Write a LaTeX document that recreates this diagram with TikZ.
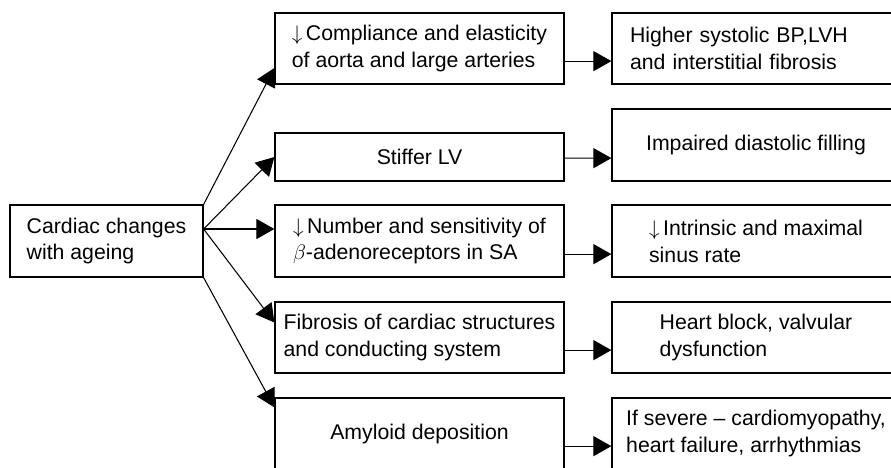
\documentclass[tikz,border=0pt]{standalone}
\usepackage{fontspec}
\setmainfont{Liberation Sans}
\usepackage{amsmath}
\usepackage{tikz}
\usetikzlibrary{arrows.meta}
\tikzset{>={Triangle[length=3.6mm, width=4mm]}}
\tikzstyle{box} = [rectangle, draw=black, line width=0.7pt, inner sep=0pt, align=left, font=\fontsize{12.1}{15.3}\selectfont]
\tikzstyle{mid} = [box, minimum width=5.78cm, minimum height=1.42cm]
\tikzstyle{res} = [box, minimum width=5.76cm, minimum height=1.42cm]
\tikzstyle{link} = [->, line width=0.6pt]

\begin{document}
\begin{tikzpicture}
\useasboundingbox (0, 0) rectangle (17.82, -9.34);
\clip (0, 0) rectangle (17.82, -9.34);
% causes
\node [box, minimum width=3.86cm, minimum height=1.44cm] (age) at (2.13, -4.82) {Cardiac changes\\with ageing};
\node [mid] (comp) at (8.39, -0.97) {$\downarrow$\,Compliance and elasticity\\of aorta and large arteries};
\node [mid, minimum height=0.96cm] (lv) at (8.39, -3.14) {Stiffer LV};
\node [mid, minimum height=1.44cm] (beta) at (8.39, -4.82) {$\downarrow$\,Number and sensitivity of\\$\beta$-adenoreceptors in SA};
\node [mid] (fib) at (8.39, -6.75) {Fibrosis of cardiac structures\\and conducting system};
\node [mid] (amy) at (8.39, -8.67) {Amyloid deposition};
% effects
\node [res, text width=5.04cm, inner xsep=0.36cm] (bp) at (15.12, -0.97) {Higher systolic BP,LVH\\and interstitial fibrosis};
\node [res, minimum height=1.44cm] (fill) at (15.12, -2.90) {Impaired diastolic filling};
\node [res, minimum height=1.44cm] (rate) at (15.12, -4.82) {$\downarrow$\,Intrinsic and maximal\\sinus rate};
\node [res] (block) at (15.12, -6.75) {Heart block, valvular\\dysfunction};
\node [res] (fail) at (15.12, -8.67) {If severe – cardiomyopathy,\\heart failure, arrhythmias};
\coordinate (fan) at ([yshift=0.24cm]age.east);
\draw [link] (age.north east) to ([yshift=-0.39cm]comp.west);
\draw [link] (fan) to (lv.west);
\draw [link] (fan) to (fan -| beta.west);
\draw [link] (fan) to ([yshift=0.3cm]fib.west);
\draw [link] (age.south east) to ([yshift=-0.2cm]amy.north west);
\draw [link] ([yshift=0.47cm]comp.south east) to ([yshift=0.47cm]bp.south west);
\draw [link] ([yshift=0.47cm]lv.south east) to ([yshift=0.47cm]fill.south west);
\draw [link] ([yshift=0.47cm]beta.south east) to ([yshift=0.47cm]rate.south west);
\draw [link] ([yshift=0.47cm]fib.south east) to ([yshift=0.47cm]block.south west);
\draw [link] ([yshift=0.47cm]amy.south east) to ([yshift=0.47cm]fail.south west);
\end{tikzpicture}
\end{document}
